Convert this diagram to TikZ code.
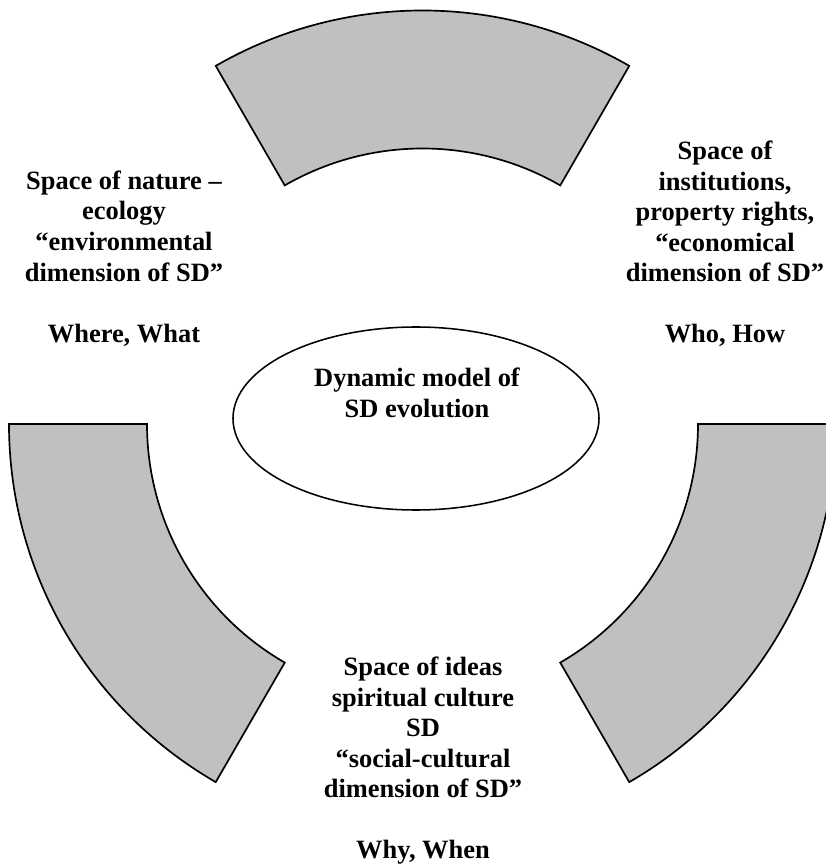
\documentclass[tikz,border=0pt]{standalone}
\usepackage{fontspec}
\setmainfont{Liberation Serif}
\usetikzlibrary{shapes.geometric}
\definecolor{ArcGray}{HTML}{C0C0C0}
\newcommand{\innerR}{6.8875}
\newcommand{\outerR}{10.3375}

\begin{document}
\begin{tikzpicture}[
  sector/.style={fill=ArcGray,draw=black,line width=1.2pt,line join=miter},
  caption/.style={inner sep=0pt,align=center,font=\fontsize{18.8pt}{21.7pt}\selectfont\bfseries},
  hub/.style={ellipse,draw=black,line width=1.1pt,minimum width=9.15cm,minimum height=4.575cm,inner sep=0pt}]
  \clip (-10.5625,-11.025) rectangle (10.0875,10.6);
  % three block arcs round the model
  \foreach \a in {60,180,300}
    \filldraw[sector] (\a:\innerR) arc[start angle=\a,end angle=\a+60,radius=\innerR]
      -- (\a+60:\outerR) arc[start angle=\a+60,end angle=\a,radius=\outerR] -- cycle;
  \node[hub] (model) at (-0.1625,0.1375) {};
  \node[caption] (modeltext) at (-0.1375,0.775) {Dynamic model of\\SD evolution};
  % the three spaces
  \node[caption] (nature) at (-7.4625,4.1375)
    {Space of nature –\\ecology\\“environmental\\dimension of SD”\\[21.7pt]Where, What};
  \node[caption] (institutions) at (7.5625,4.5)
    {Space of\\institutions,\\property rights,\\“economical\\dimension of SD”\\[21.7pt]Who, How};
  \node[caption] (ideas) at (0.0125,-8.425)
    {Space of ideas\\spiritual culture\\SD\\“social-cultural\\dimension of SD”\\[21.7pt]Why, When};
\end{tikzpicture}
\end{document}
